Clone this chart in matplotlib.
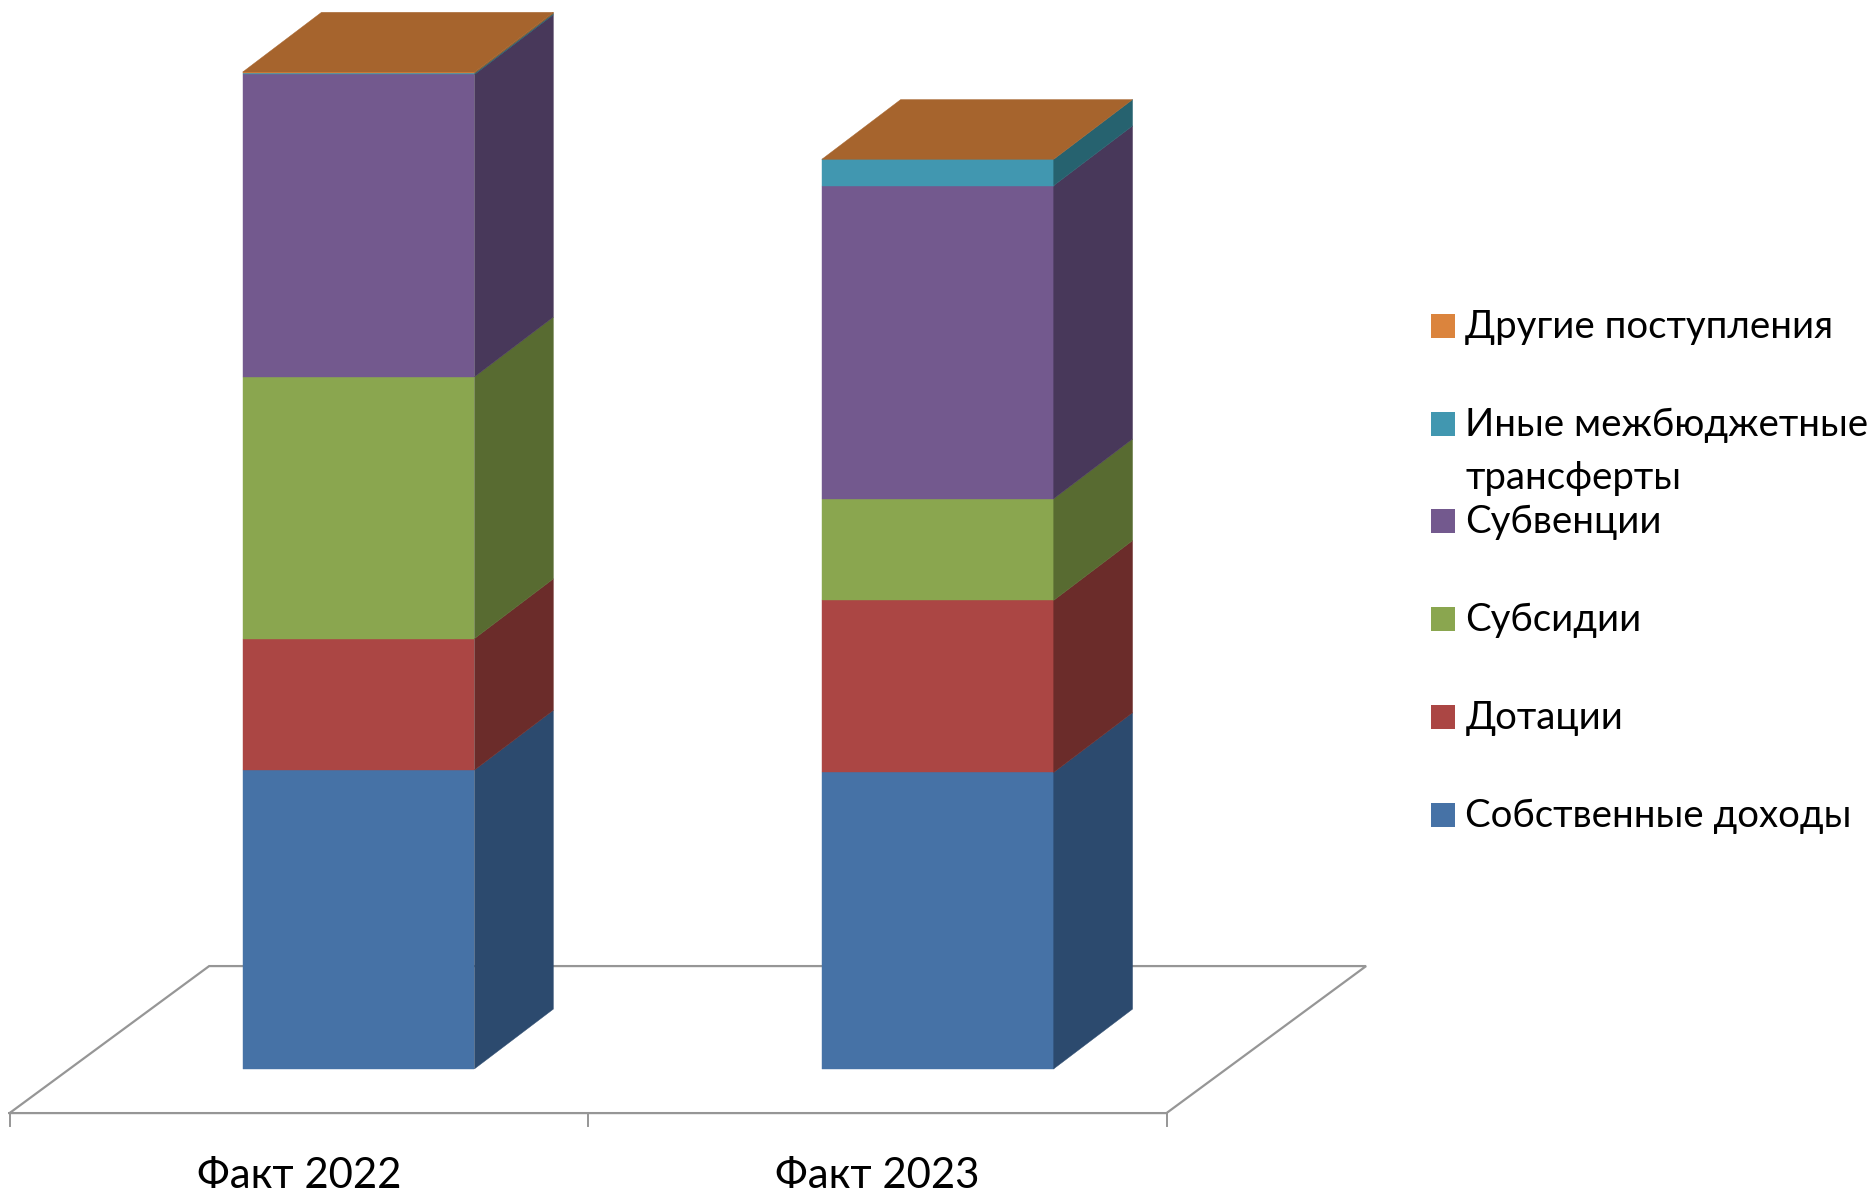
import matplotlib
matplotlib.use("Agg")
import matplotlib.pyplot as plt
from matplotlib.patches import Polygon, Rectangle

plt.rcParams['font.family'] = ['Lato', 'Open Sans', 'DejaVu Sans']

categories = ['Факт 2022', 'Факт 2023']
series_names = ['Собственные доходы', 'Дотации', 'Субсидии', 'Субвенции',
                'Иные межбюджетные\nтрансферты', 'Другие поступления']
own_income = [250, 248]
grants = [110, 144]
subsidies = [219, 85]
subventions = [253, 262]
other_transfers = [1, 22]
other_receipts = [1, 0]
series_values = [own_income, grants, subsidies, subventions, other_transfers, other_receipts]

front_colors = ['#4672A6', '#AB4644', '#8AA64F', '#73598E', '#4197B0', '#DB843D']
side_colors = ['#2C4A6E', '#6B2C2A', '#586B31', '#48385A', '#26626F', '#8F5A2A']
top_color = '#A6642D'
grid_color = '#969696'

BAR_LEFT = [203, 687.6]
BAR_W = 194
DX, DY = 66, 50
FX, FY = 167, 123
W, H = 1873 / 1194 * 999, 999
SHIFT = -0.7

fig = plt.figure(figsize=(18.73, 11.94), dpi=100, facecolor='white')
ax = fig.add_axes([0, 0, 1, 1])
ax.set_xlim(0, W)
ax.set_ylim(895 - 999 + SHIFT, 895 + SHIFT)
ax.axis('off')

# floor
y0 = 895 - 932
x0, x1 = 8, 976
ax.plot([x0, x1, x1 + FX, x0 + FX, x0], [y0, y0, y0 + FY, y0 + FY, y0],
        color=grid_color, lw=1.6, zorder=1, solid_joinstyle='miter')
for x in (8, 492, 976):
    ax.plot([x, x], [y0, y0 - 11], color=grid_color, lw=1.4, zorder=1)
for i, c in enumerate(categories):
    ax.text(250 + 484 * i, 895 - 984.4, c, fontsize=30.2, ha='center', va='center', color='black')

# bars
for i, left in enumerate(BAR_LEFT):
    base = 0
    right = left + BAR_W
    for j, vals in enumerate(series_values):
        v = vals[i]
        if v <= 0:
            continue
        ax.add_patch(Rectangle((left, base), BAR_W, v, fc=front_colors[j], ec=front_colors[j], lw=0.3, zorder=3))
        ax.add_patch(Polygon([(right, base), (right + DX, base + DY), (right + DX, base + v + DY), (right, base + v)],
                             closed=True, fc=side_colors[j], ec=side_colors[j], lw=0.3, zorder=3))
        base += v
    ax.add_patch(Polygon([(left, base), (right, base), (right + DX, base + DY), (left + DX, base + DY)],
                         closed=True, fc=top_color, ec=top_color, lw=0.3, zorder=4))

# legend
legend_y = [682.4, 600.4, 518.4, 436.4, 355.4, 273.4]
for name, col, y in zip(series_names, front_colors, legend_y):
    yy = 895 - y
    ax.add_patch(Rectangle((1197.5, yy - 10), 20, 20, fc=col, ec='none', zorder=3))
    for k, p in enumerate(name.split('\n')):
        ax.text(1226, yy - 1 - k * 44, p, fontsize=27.6, ha='left', va='center', color='black')

fig.savefig('out.png', dpi=100, facecolor='white')
